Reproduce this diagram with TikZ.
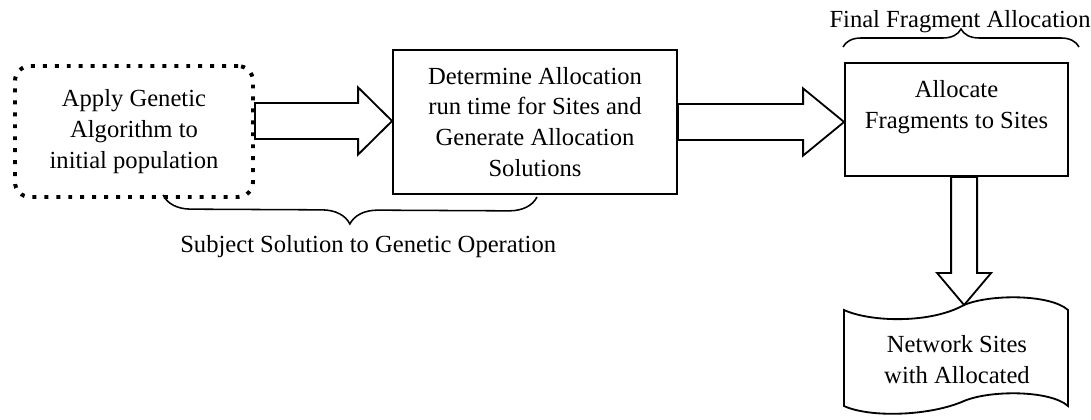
\documentclass[tikz,border=0pt]{standalone}
\usepackage{fontspec}
\setmainfont{Liberation Serif}
\usetikzlibrary{calc,decorations.pathreplacing}

% Blockpfeil waagerecht: Start, Spitze, Kopflaenge
\newcommand{\fatarrowh}[3]{%
	\draw[fatarrow] let \p1=(#1), \p2=(#2) in
	(\x1,\y1+0.45cm) -- (\x2-#3,\y1+0.45cm) -- (\x2-#3,\y1+0.84cm) -- (\x2,\y1)
	-- (\x2-#3,\y1-0.84cm) -- (\x2-#3,\y1-0.45cm) -- (\x1,\y1-0.45cm) -- cycle;}

% Blockpfeil senkrecht nach unten: Start, Spitze, Kopflaenge
\newcommand{\fatarrowv}[3]{%
	\draw[fatarrow] let \p1=(#1), \p2=(#2) in
	(\x1-0.325cm,\y1) -- (\x1-0.325cm,\y2+#3) -- (\x1-0.675cm,\y2+#3) -- (\x1,\y2)
	-- (\x1+0.675cm,\y2+#3) -- (\x1+0.325cm,\y2+#3) -- (\x1+0.325cm,\y1) -- cycle;}

\begin{document}
\begin{tikzpicture}[
	txt/.style={font=\fontsize{17.5pt}{22pt}\selectfont},
	box/.style={txt, draw, line width=1.3pt, align=center},
	dotbox/.style={txt, draw, align=center, line width=2.8pt,
		dash pattern=on 2.8pt off 5.7pt, rounded corners=0.375cm},
	lbl/.style={txt, inner sep=0pt, align=center},
	fatarrow/.style={draw, line width=1.3pt, fill=white, line join=miter},
	curly/.style={draw, line width=1.1pt, decorate, decoration={brace, amplitude=#1}}
	]
	
	\useasboundingbox (0,0) rectangle (27.275,10.475);
	
	% Gepunktete Startbox
	\node[dotbox, minimum width=5.95cm, minimum height=3.275cm] (ga) at (3.35,7.1875)
	{Apply Genetic\\Algorithm to\\initial population};
	
	% Mittlere Box
	\node[box, minimum width=7.1cm, minimum height=3.6cm] (dal) at (13.375,7.425)
	{Determine Allocation\\run time for Sites and\\Generate Allocation\\Solutions};
	
	% Rechte Box
	\node[box, minimum width=5.575cm, minimum height=2.825cm] (alloc) at (23.9125,7.4875)
	{Allocate\\Fragments to Sites\\~};
	
	% Lochstreifen unten rechts
	\draw[line width=1.3pt]
	(21.1,2.725) .. controls (21.75,2.425) and (23.25,2.375) .. (24.1,2.85)
	.. controls (24.75,3.125) and (26.25,3.125) .. (26.7,2.725)
	-- (26.7,0.325)
	.. controls (26.25,0.725) and (24.75,0.725) .. (24.1,0.45)
	.. controls (23.25,0.075) and (21.75,0.025) .. (21.1,0.325) -- cycle;
	\coordinate (tapetop) at (24.1,2.85);
	
	\node[lbl] (net) at (23.925,1.475) {Network Sites\\with Allocated};
	
	% Blockpfeile
	\coordinate (a1s) at ($(ga.east)+(0,0.2625)$);
	\fatarrowh{a1s}{a1s -| dal.west}{0.85cm}
	\fatarrowh{dal.east}{dal.east -| alloc.west}{1.025cm}
	\coordinate (a3s) at ($(alloc.south)+(0.19,0)$);
	\fatarrowv{a3s}{tapetop}{0.8cm}
	
	% Geschweifte Klammern
	\draw[curly=0.7cm] (13.425,5.55) -- (4.075,5.6);
	\draw[curly=0.45cm] (21.075,9.3) -- (26.975,9.3);
	
	% Beschriftungen der Klammern
	\node[lbl, anchor=base west] (sublbl) at (4.5,4.15) {Subject Solution to Genetic Operation};
	\node[lbl, anchor=base] (finlbl) at (24.0,9.775) {Final Fragment Allocation};
	
\end{tikzpicture}
\end{document}
